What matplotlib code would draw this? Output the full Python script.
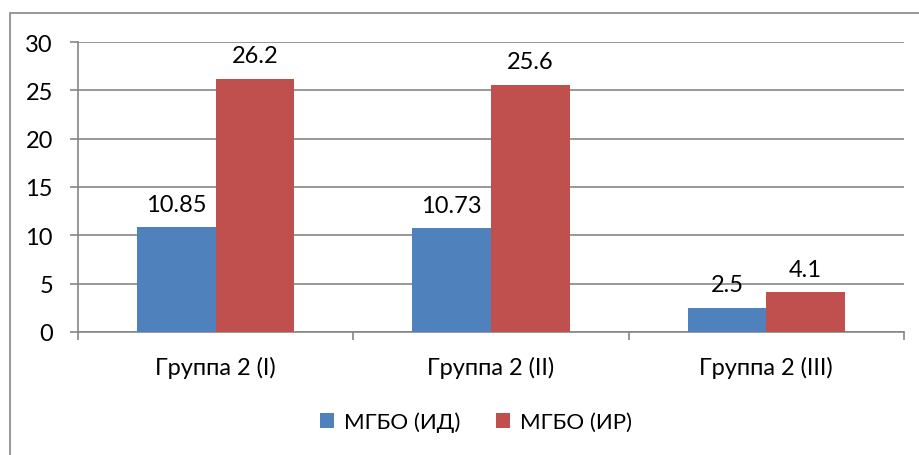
import matplotlib.pyplot as plt
import numpy as np
from matplotlib.patches import Rectangle

plt.rcParams["font.family"] = ["Lato", "DejaVu Sans"]

groups = ["Группа 2 (I)", "Группа 2 (II)", "Группа 2 (III)"]
series_names = ["МГБО (ИД)", "МГБО (ИР)"]
id_values = [10.85, 10.73, 2.5]
ir_values = [26.2, 25.6, 4.1]
value_labels = [["10.85", "10.73", "2.5"], ["26.2", "25.6", "4.1"]]
y_ticks = [0, 5, 10, 15, 20, 25, 30]

colors = ["#4F81BD", "#C0504D"]
grid_color = "#868686"

fig = plt.figure(figsize=(9.19, 4.56), dpi=100)
ax = fig.add_axes([78 / 919, 1 - 333 / 456, (904 - 78) / 919, (333 - 43) / 456])

# chart area frame, running off the right and bottom edges
fig.patches.append(Rectangle((10 / 919, -0.05), 1.0, 1 - 14 / 456 + 0.05,
                             transform=fig.transFigure, fill=False,
                             edgecolor=grid_color, linewidth=1.2))

x = np.arange(len(groups))
width = 1 / 3.5
for i, (vals, name) in enumerate(zip([id_values, ir_values], series_names)):
    offset = (i - 0.5) * width
    ax.bar(x + offset, vals, width=width, color=colors[i], label=name, zorder=3)
    for xi, v, lab in zip(x + offset, vals, value_labels[i]):
        ax.annotate(lab, (xi, v), xytext=(0, 9), textcoords="offset points",
                    ha="center", va="bottom", fontsize=17, color="black")

ax.set_xlim(-0.5, len(groups) - 0.5)
ax.set_ylim(0, 30)
ax.set_yticks(y_ticks)
ax.set_yticklabels([str(t) for t in y_ticks], fontsize=17)
ax.yaxis.grid(True, color=grid_color, linewidth=1.2, zorder=0)
ax.set_axisbelow(True)

ax.set_xticks(x)
ax.set_xticklabels(groups, fontsize=17)
ax.tick_params(axis="x", length=0, pad=17)
ax.set_xticks(np.arange(len(groups) + 1) - 0.5, minor=True)
ax.tick_params(axis="x", which="minor", length=6, width=1.2, color=grid_color)
ax.tick_params(axis="y", length=6, width=1.2, color=grid_color, pad=12)

for side in ["top", "right"]:
    ax.spines[side].set_visible(False)
for side in ["left", "bottom"]:
    ax.spines[side].set_color(grid_color)
    ax.spines[side].set_linewidth(1.2)

fig.legend(loc="center", bbox_to_anchor=(476 / 919, 1 - 423 / 456), ncol=2,
           frameon=False, fontsize=16, handlelength=0.65, handleheight=0.65,
           handletextpad=0.45, columnspacing=1.6)

fig.savefig("out.png", dpi=100)
